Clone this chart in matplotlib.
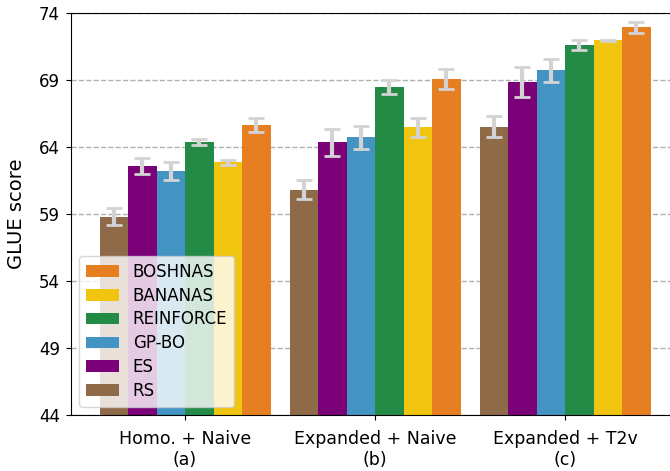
import matplotlib
matplotlib.use("Agg")
import matplotlib.pyplot as plt
import numpy as np

groups = ["Homo. + Naive\n(a)", "Expanded + Naive\n(b)", "Expanded + T2v\n(c)"]
methods = ["RS", "ES", "GP-BO", "REINFORCE", "BANANAS", "BOSHNAS"]
colors = ["#8f6a48", "#7a0177", "#4393c3", "#238b45", "#f1c40f", "#e67e22"]

rs = [58.8, 60.8, 65.5]
es = [62.6, 64.35, 68.85]
gpbo = [62.2, 64.7, 69.7]
reinforce = [64.35, 68.45, 71.6]
bananas = [62.85, 65.45, 71.95]
boshnas = [65.6, 69.05, 72.9]

rs_err = [0.6, 0.72, 0.8]
es_err = [0.6, 1.0, 1.1]
gpbo_err = [0.7, 0.87, 0.88]
reinforce_err = [0.22, 0.5, 0.37]
bananas_err = [0.2, 0.7, 0.05]
boshnas_err = [0.52, 0.75, 0.38]

values = [rs, es, gpbo, reinforce, bananas, boshnas]
errors = [rs_err, es_err, gpbo_err, reinforce_err, bananas_err, boshnas_err]

fig = plt.figure(figsize=(6.7, 4.71), dpi=100)
ax = fig.add_axes([0.106, 0.119, 0.9075, 0.854])

x = np.arange(len(groups))
w = 0.15
handles = []
for i, (m, v, e, c) in enumerate(zip(methods, values, errors, colors)):
    pos = x + (i - 2.5) * w
    b = ax.bar(pos, v, w, color=c, label=m, zorder=2)
    ax.errorbar(pos, v, yerr=e, fmt="none", ecolor="lightgray", elinewidth=3,
                capsize=6, capthick=2, zorder=3)
    handles.append(b)

ax.set_ylim(44, 74)
ax.set_yticks([44, 49, 54, 59, 64, 69, 74])
ax.set_xlim(-0.6, 2.6)
ax.set_xticks(x)
ax.set_xticklabels(groups, fontsize=12.5, linespacing=1.25)
ax.tick_params(axis="x", pad=7)
ax.tick_params(axis="y", labelsize=12, pad=4.5)
ax.set_ylabel("GLUE score", fontsize=14, labelpad=9)
ax.yaxis.grid(True, linestyle="--", color="#b0b0b0", linewidth=1, zorder=0)
ax.set_axisbelow(True)

ax.legend(handles[::-1], methods[::-1], loc="lower left", fontsize=12,
          labelspacing=0.35)

fig.savefig("out.png", dpi=100)
